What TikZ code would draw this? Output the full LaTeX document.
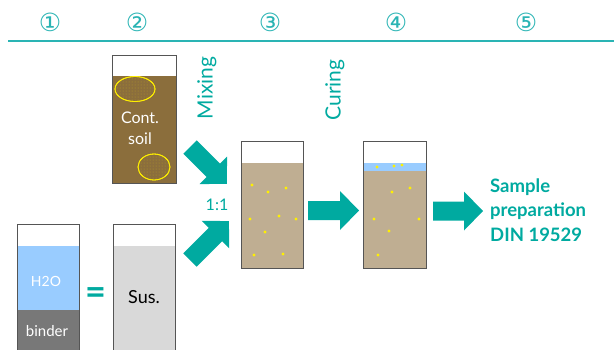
\documentclass[tikz,border=0pt]{standalone}
\usepackage{fontspec}
\setmainfont{Lato}
\newfontfamily\symfont{DejaVu Sans}
\usetikzlibrary{patterns}
\definecolor{tealA}{RGB}{0,170,160}
\definecolor{tealL}{RGB}{42,180,180}
\definecolor{soilbrown}{RGB}{139,110,60}
\definecolor{mixtan}{RGB}{191,174,146}
\definecolor{waterblue}{RGB}{153,204,255}
\definecolor{bindergray}{RGB}{120,120,120}
\definecolor{susgray}{RGB}{217,217,217}
\definecolor{dotyellow}{RGB}{255,240,0}
\definecolor{borderg}{RGB}{85,85,85}
\newcommand\blockarr[4]{%
  \begin{scope}[shift={(#1,#2)},rotate=#3]
    \fill[tealA] (0,-9.5) -- (#4-19,-9.5) -- (#4-19,-19.5) -- (#4,0) -- (#4-19,19.5) -- (#4-19,9.5) -- (0,9.5) -- cycle;
  \end{scope}}
\tikzset{
  num/.style={text=tealL, font=\symfont\fontsize{25}{25}\selectfont, inner sep=0pt},
  border/.style={draw=borderg, line width=1pt},
  wtext/.style={text=white, inner sep=0pt},
  ttext/.style={text=tealA, inner sep=0pt},
  yd/.style={fill=dotyellow, draw=none},
  blob/.style={draw=dotyellow, line width=0.8pt, pattern=dots, pattern color=dotyellow!35!soilbrown}
}
\begin{document}
\begin{tikzpicture}[x=1pt,y=-1pt]
\useasboundingbox (0,0) rectangle (614,349);
% header
\draw[tealL, line width=2pt] (8,41) -- (614,41);
\node[num] (n1) at (50,22) {①};
\node[num] (n2) at (137,22) {②};
\node[num] (n3) at (270,22) {③};
\node[num] (n4) at (396,22) {④};
\node[num] (n5) at (526,22) {⑤};
% contaminated soil container
\fill[soilbrown] (112,76) rectangle (176,183);
\fill[white] (112,55) rectangle (176,76);
\fill[blob] (135,89) ellipse [x radius=20, y radius=12.5];
\fill[blob] (154,167) ellipse [x radius=16, y radius=13];
\draw[blob, fill=none] (135,89) ellipse [x radius=20, y radius=12.5];
\draw[blob, fill=none] (154,167) ellipse [x radius=16, y radius=13];
\draw[border] (112,55) rectangle (176,183);
\node[wtext, font=\fontsize{16}{16}\selectfont] (cont) at (140,118) {Cont.};
\node[wtext, font=\fontsize{16}{16}\selectfont] (soil) at (140,139) {soil};
% H2O / binder container
\fill[white] (17,224) rectangle (79,246);
\fill[waterblue] (17,246) rectangle (79,310);
\fill[bindergray] (17,310) rectangle (79,350);
\draw[border] (17,350) -- (17,224) -- (79,224) -- (79,350);
\node[wtext, font=\fontsize{14}{14}\selectfont] (h2o) at (46,281) {H2O};
\node[wtext, font=\fontsize{15}{15}\selectfont] (binder) at (47,331) {binder};
\node[ttext, font=\fontsize{36}{36}\selectfont\bfseries] (eq) at (96,296) {=};
% suspension container
\fill[white] (113,224) rectangle (175,246);
\fill[susgray] (113,246) rectangle (175,350);
\draw[border] (113,350) -- (113,224) -- (175,224) -- (175,350);
\node[inner sep=0pt, font=\fontsize{18}{18}\selectfont] (sus) at (144,297) {Sus.};
% mixing label and arrows
\node[ttext, rotate=90, font=\fontsize{21}{21}\selectfont] (mix) at (207,88) {Mixing};
\node[ttext, font=\fontsize{16}{16}\selectfont] (ratio) at (217,205) {1:1};
\blockarr{190}{147}{-45}{52}
\blockarr{190}{260}{45}{55}
% container 3
\fill[white] (241,141) rectangle (303,163);
\fill[mixtan] (241,163) rectangle (303,268);
\draw[border] (241,141) rectangle (303,268);
\foreach \p in {(252,185),(268,192),(286,188),(250,219),(279,216),(296,219),(265,232),(254,255),(283,254)}
  \fill[yd] \p circle (1.6);
% curing label
\node[ttext, rotate=90, font=\fontsize{21}{21}\selectfont] (cur) at (335,90) {Curing};
\blockarr{308}{210.5}{0}{51}
% container 4
\fill[white] (363,141) rectangle (426,163);
\fill[waterblue] (363,163) rectangle (426,171);
\fill[mixtan] (363,171) rectangle (426,268);
\draw[border] (363,141) rectangle (426,268);
\foreach \p in {(377,167),(394,166),(402,165),(392,192),(410,188),(374,219),(419,219),(389,231),(378,255)}
  \fill[yd] \p circle (1.6);
\blockarr{433}{211}{0}{50}
% result text
\node[ttext, anchor=west, align=left, font=\fontsize{18.5}{24.5}\selectfont\bfseries] (res) at (490,210) {Sample\\preparation\\DIN 19529};
\end{tikzpicture}
\end{document}
